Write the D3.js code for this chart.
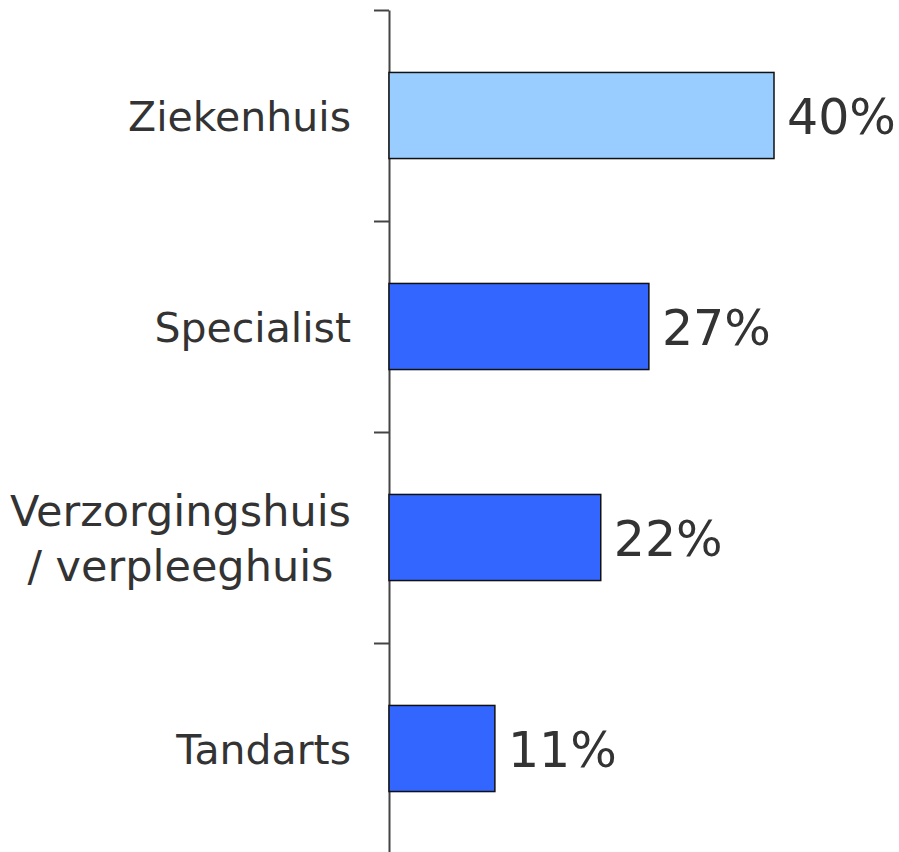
<!DOCTYPE html>
<html>
<head>
<meta charset="utf-8">
<script src="https://cdn.jsdelivr.net/npm/d3@7"></script>
<style>
  html, body { margin: 0; padding: 0; background: #fff; }
  svg { display: block; }
</style>
</head>
<body>
<div id="chart"></div>
<script>
// chart data
var categories = ["Ziekenhuis", "Specialist", "Verzorgingshuis\n/ verpleeghuis", "Tandarts"];
var values = [40, 27, 22, 11];
var barColors = ["#99ccff", "#3366ff", "#3366ff", "#3366ff"];

var width = 899, height = 852;
var axisX = 389;

var svg = d3.select("#chart").append("svg")
  .attr("width", width)
  .attr("height", height);

var y = d3.scaleBand()
  .domain(categories)
  .range([10, 854])
  .paddingInner(0.592)
  .paddingOuter(0.296);

var x = d3.scaleLinear()
  .domain([0, 40])
  .range([axisX, 774]);

// boundaries between categories
var tickScale = d3.scaleLinear()
  .domain([0, categories.length])
  .range([10, 854]);

var axis = svg.append("g")
  .attr("transform", "translate(" + axisX + ",0)")
  .call(d3.axisLeft(tickScale)
    .tickValues(d3.range(categories.length + 1))
    .tickSize(15)
    .tickSizeOuter(0)
    .tickFormat(""));
axis.selectAll("path, line")
  .attr("stroke", "#444")
  .attr("stroke-width", 2);

// bars
svg.selectAll(".bar")
  .data(categories)
  .enter().append("rect")
    .attr("class", "bar")
    .attr("x", x(0))
    .attr("y", function(d) { return y(d); })
    .attr("width", function(d, i) { return x(values[i]) - x(0); })
    .attr("height", y.bandwidth())
    .attr("fill", function(d, i) { return barColors[i]; })
    .attr("stroke", "#111")
    .attr("stroke-width", 1.5);

// value labels
svg.selectAll(".val")
  .data(categories)
  .enter().append("text")
    .attr("class", "val")
    .attr("x", function(d, i) { return x(values[i]) + 13; })
    .attr("y", function(d) { return y(d) + y.bandwidth() / 2 + 18; })
    .style("font-family", "'DejaVu Sans', Verdana, sans-serif")
    .style("font-size", "49px")
    .style("fill", "#333")
    .text(function(d, i) { return values[i] + "%"; });

// category labels, lines centred on each other, block right-aligned
var labelRight = 351;
categories.forEach(function(cat) {
  var lines = cat.split("\n");
  var multi = lines.length > 1;
  var cy = y(cat) + y.bandwidth() / 2;
  var g = svg.append("g")
    .attr("transform", "translate(" + labelRight + "," + cy + ")");
  var texts = lines.map(function(line, j) {
    return g.append("text")
      .attr("y", multi ? -12 + j * 55 : 15)
      .attr("text-anchor", "middle")
      .style("font-family", "'DejaVu Sans', Verdana, sans-serif")
      .style("font-size", multi ? "43px" : "41px")
      .style("fill", "#333")
      .text(line);
  });
  var maxW = d3.max(texts, function(t) { return t.node().getComputedTextLength(); });
  texts.forEach(function(t) { t.attr("x", -maxW / 2); });
});
</script>
</body>
</html>
